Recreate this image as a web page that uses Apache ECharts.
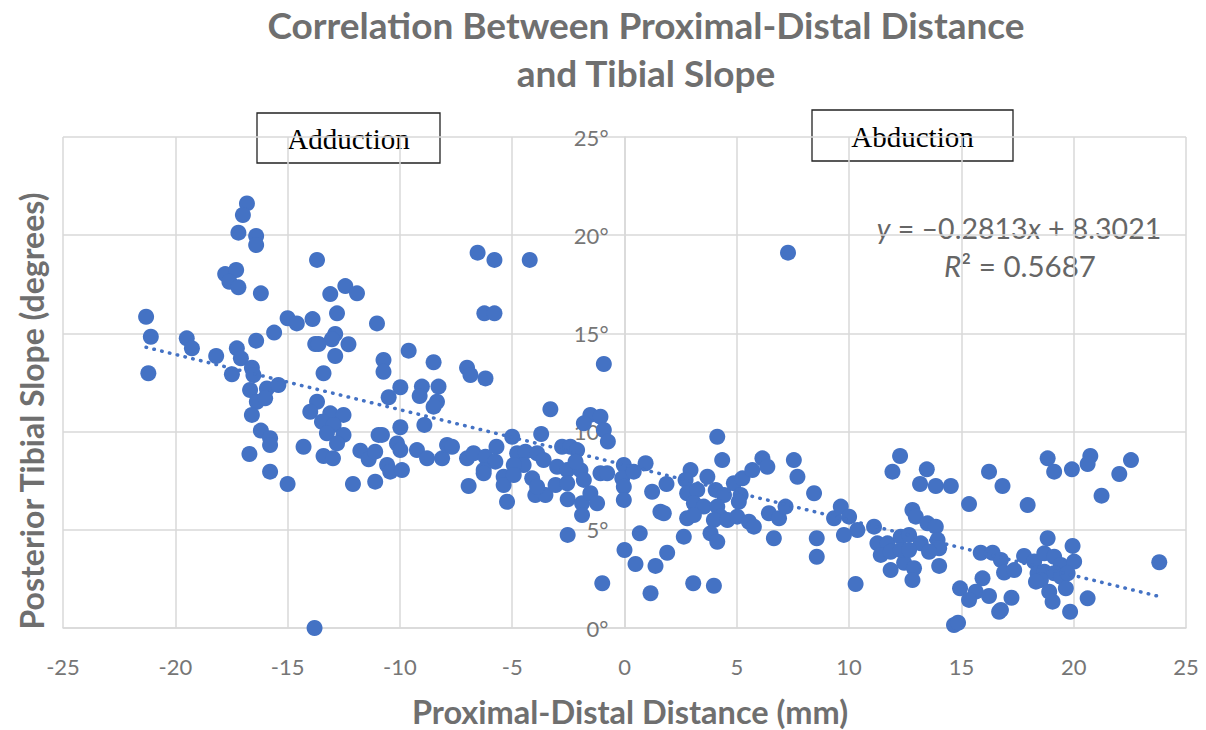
<!DOCTYPE html>
<html><head><meta charset="utf-8">
<script src="https://cdn.jsdelivr.net/npm/echarts@6/dist/echarts.min.js"></script>
<style>html,body{margin:0;padding:0;background:#fff}#c{width:1206px;height:730px}</style>
</head><body><div id="c"></div>
<script>
// ---- data ----
const titleText = 'Correlation Between Proximal-Distal Distance\nand Tibial Slope';
const xAxisTitle = 'Proximal-Distal Distance (mm)';
const yAxisTitle = 'Posterior Tibial Slope (degrees)';
const xTicks = [-25, -20, -15, -10, -5, 0, 5, 10, 15, 20, 25];
const yTicks = [0, 5, 10, 15, 20, 25];
const annotations = ['Adduction', 'Abduction'];
const slope = -0.2813, intercept = 8.3021, rSquared = 0.5687;

const adductionPoints = [
[-16.81,21.62],[-16.99,21.03],[-17.19,20.13],[-16.40,19.96],[-16.40,19.50],[-13.69,18.74],[-17.78,18.02],[-17.29,18.23],
[-17.59,17.63],[-17.19,17.35],[-16.19,17.04],[-13.10,17.00],[-12.43,17.41],[-11.91,17.04],[-21.30,15.85],[-21.09,14.83],
[-19.49,14.75],[-19.26,14.24],[-18.18,13.85],[-17.26,14.24],[-17.08,13.73],[-16.40,14.63],[-15.60,15.04],[-15.00,15.77],
[-14.59,15.51],[-13.89,15.73],[-12.80,16.02],[-12.88,14.97],[-13.03,14.70],[-13.77,14.46],[-13.62,14.46],[-12.29,14.45],
[-12.88,13.85],[-13.40,12.97],[-11.02,15.51],[-21.20,12.97],[-17.48,12.92],[-16.59,13.25],
[-16.52,12.88],[-16.67,12.12],[-15.92,12.20],[-15.41,12.37],[-16.37,11.52],[-16.00,11.70],[-16.59,10.85],[-16.19,10.05],
[-15.78,9.66],[-15.78,9.32],[-16.70,8.86],[-15.78,7.96],[-15.00,7.33],[-13.69,11.52],[-13.99,11.01],[-13.10,10.93],
[-12.51,10.85],[-13.47,10.50],[-12.95,10.34],[-13.25,9.91],[-12.51,9.83],[-12.80,9.40],[-14.29,9.23],[-13.40,8.76],
[-12.98,8.64],[-11.76,9.03],[-11.39,8.59],[-11.10,8.98],[-10.95,9.83],[-12.09,7.33],[-11.10,7.45],[-13.80,0.00],
[-6.54,19.11],[-5.79,18.74],[-4.22,18.74],[-6.24,16.02],[-5.79,16.02],[-10.73,13.65],[-10.73,13.05],[-9.61,14.12],
[-8.50,13.53],[-7.01,13.25],[-6.86,12.88],[-6.19,12.71],[-0.92,13.44],
[-9.98,12.26],[-9.02,12.29],[-8.28,12.29],[-9.12,11.81],[-10.50,11.75],[-8.35,11.52],[-8.50,11.27],[-3.30,11.14],
[-9.98,10.22],[-8.91,10.34],[-10.80,9.83],[-1.52,10.85],[-1.07,10.76],[-1.81,10.42],[-0.92,10.08],[-0.74,9.49],
[-5.00,9.74],[-3.71,9.88],[-2.78,9.23],[-2.41,9.23],[-10.13,9.40],[-9.98,9.06],[-9.24,9.06],[-8.79,8.64],
[-8.12,8.64],[-7.90,9.32],[-7.68,9.23],[-10.57,8.30],[-10.43,7.96],[-9.91,8.04],[-7.01,8.64],[-6.72,8.90],
[-6.19,8.72],[-5.75,8.47],[-6.27,8.04],[-6.27,7.88],[-5.70,9.23],[-6.94,7.23],[-4.78,8.90],[-4.41,8.98],
[-3.89,8.90],[-3.60,8.55],[-4.49,8.30],[-4.93,8.30],[-5.38,7.70],[-5.38,7.28],[-4.93,7.79],[-4.11,7.62],
[-3.97,6.77],[-3.52,6.77],[-3.89,7.19],[-3.07,7.28],[-5.23,6.43],[-3.00,8.21],[-2.55,8.04],[-2.55,7.37],
[-1.96,8.04],[-1.81,7.54],[-1.07,7.88],[-0.77,7.88],[-2.11,9.06],[-2.18,8.47],[-2.53,6.55],[-1.89,6.35],
[-1.89,5.75],[-1.52,6.86],[-1.22,6.35],[-2.53,4.74],[-0.99,2.28],[-0.03,8.30],[-0.10,7.62],[-0.03,7.19],
[-0.03,6.52],[0.00,3.97]
];
const abductionPoints = [
[4.13,9.74],[4.35,8.55],[0.94,8.39],[0.41,7.96],[1.23,6.94],[1.87,7.33],[2.94,8.04],[2.72,7.54],
[3.69,7.70],[2.79,6.86],[3.24,7.03],[3.09,6.35],[3.53,6.18],[1.60,5.92],[1.75,5.84],[2.79,5.59],
[3.09,5.75],[4.06,7.03],[4.43,6.77],[4.13,6.18],[4.28,5.67],[3.98,5.50],[4.58,5.50],[4.87,7.37],
[5.25,7.62],[5.69,8.04],[6.14,8.64],[6.36,8.21],[5.17,6.77],[5.09,6.43],[5.02,5.67],[5.54,5.41],
[5.76,5.16],[6.43,5.84],[6.88,5.59],[7.17,6.18],[7.54,8.55],[7.70,7.70],[8.44,6.86],[9.33,5.59],
[9.63,6.18],[10.00,5.67],[10.37,4.99],[9.77,4.74],[8.56,4.57],[8.56,3.63],[6.65,4.57],[0.68,4.82],
[2.64,4.65],[3.83,4.82],[4.13,4.39],[1.90,3.83],[0.49,3.26],[1.38,3.16],[1.16,1.77],[3.06,2.28],
[3.98,2.15],[10.29,2.24],[7.28,19.11],
[12.27,8.76],[11.93,7.96],[13.46,8.08],[13.16,7.33],[13.86,7.23],[14.53,7.23],[16.23,7.96],[16.83,7.23],
[15.34,6.31],[17.95,6.26],[18.84,8.64],[19.13,7.96],[19.92,8.08],[20.74,8.76],[20.62,8.35],[22.55,8.55],
[22.03,7.84],[21.24,6.74],[23.81,3.35],
[11.11,5.16],[11.26,4.31],[11.71,4.31],[11.41,3.72],[11.85,3.88],[12.30,4.65],[12.67,4.74],[12.82,6.01],
[12.97,5.67],[13.19,4.31],[13.49,5.33],[13.86,5.16],[13.94,4.48],[14.01,4.06],[13.56,3.88],[11.85,2.95],
[12.45,3.32],[12.89,3.04],[12.82,2.44],[14.01,3.16],[12.30,3.97],[12.67,3.97],[15.86,3.83],[16.39,3.83],
[16.76,3.46],[16.90,2.82],[17.35,2.95],[15.94,2.53],[14.94,2.02],[15.64,1.85],[15.34,1.43],[16.23,1.63],
[17.23,1.54],[16.68,0.83],[16.76,0.92],[14.67,0.15],[14.85,0.27],[17.79,3.67],[18.24,3.38],[18.69,3.80],
[19.13,3.63],[19.43,3.21],[18.84,4.57],[19.95,4.18],[20.02,3.38],[18.39,2.79],[18.69,2.87],[19.13,2.79],
[19.43,2.61],[19.73,2.79],[18.54,2.44],[18.32,2.36],[18.91,1.85],[19.06,1.34],[19.65,2.02],[20.62,1.51],
[19.84,0.83]
];

// ---- build chart ----
const allPoints = adductionPoints.concat(abductionPoints);
const xs = allPoints.map(p => p[0]);
const xMin = Math.min.apply(null, xs), xMax = Math.max.apply(null, xs);
const trend = [[xMin, slope * xMin + intercept], [xMax, slope * xMax + intercept]];

const BLUE = '#4472C4';
const GRID = '#d9d9d9';
const FONT = 'Lato, "Open Sans", sans-serif';
const W = 1206, GL = 63, GR = 20;
const axMin = xTicks[0], axMax = xTicks[xTicks.length - 1];
// y axis sits where x = 0
const yAxisOffset = -((W - GL - GR) * (0 - axMin) / (axMax - axMin));

const chart = echarts.init(document.getElementById('c'), null, {renderer: 'svg'});
chart.setOption({
  backgroundColor: '#fff',
  animation: false,
  title: {
    text: titleText, left: 641, top: -5, textAlign: 'center',
    textStyle: {fontFamily: FONT, fontSize: 37, fontWeight: 'bold', color: '#6f6f6f', lineHeight: 48}
  },
  grid: {left: GL, right: GR, top: 137, bottom: 102, containLabel: false},
  xAxis: {
    type: 'value', min: axMin, max: axMax, interval: 5,
    axisLine: {show: true, onZero: false, lineStyle: {color: GRID, width: 1.5}},
    axisTick: {show: false},
    axisLabel: {fontFamily: FONT, fontSize: 22, color: '#767676', margin: 27},
    splitLine: {show: true, lineStyle: {color: GRID, width: 1.5}}
  },
  yAxis: {
    type: 'value', min: yTicks[0], max: yTicks[yTicks.length - 1], interval: 5,
    position: 'left', offset: yAxisOffset,
    axisLine: {show: true, onZero: false, lineStyle: {color: GRID, width: 1.5}},
    axisTick: {show: false},
    axisLabel: {fontFamily: FONT, fontSize: 22, color: '#767676', margin: 16, formatter: v => v + '°'},
    splitLine: {show: true, lineStyle: {color: GRID, width: 1.5}}
  },
  series: [
    {type: 'scatter', data: allPoints, symbolSize: 16, itemStyle: {color: BLUE, opacity: 1}, z: 3},
    {type: 'line', data: trend, showSymbol: false, symbol: 'none', z: 4,
     lineStyle: {color: BLUE, width: 3.5, type: [0.5, 7.5], cap: 'round'}}
  ],
  graphic: [
    {type: 'text', x: 630, y: 711, z: 5,
     style: {text: xAxisTitle, font: 'bold 32.5px ' + FONT, lineHeight: 32, fill: '#6f6f6f', textAlign: 'center', textVerticalAlign: 'middle'}},
    {type: 'text', x: 31, y: 411, rotation: Math.PI / 2, z: 5,
     style: {text: yAxisTitle, font: 'bold 32px ' + FONT, fill: '#6f6f6f', textAlign: 'center', textVerticalAlign: 'middle'}},
    {type: 'group', z: 10, children: [
      {type: 'rect', shape: {x: 257, y: 113, width: 183, height: 50}, style: {fill: '#fff', stroke: '#222', lineWidth: 1.3}},
      {type: 'text', x: 348.5, y: 139, style: {text: annotations[0], font: '29px "Liberation Serif", serif', fill: '#000', textAlign: 'center', textVerticalAlign: 'middle'}}
    ]},
    {type: 'group', z: 10, children: [
      {type: 'rect', shape: {x: 812, y: 110, width: 201, height: 51}, style: {fill: '#fff', stroke: '#222', lineWidth: 1.3}},
      {type: 'text', x: 912.5, y: 137, style: {text: annotations[1], font: '29px "Liberation Serif", serif', fill: '#000', textAlign: 'center', textVerticalAlign: 'middle'}}
    ]},
    {type: 'group', z: 1, children: [
      {type: 'rect', shape: {x: 870, y: 208, width: 300, height: 76}, style: {fill: '#fff'}},
      {type: 'text', x: 1019, y: 228, style: {
        text: '{i|y} = –' + Math.abs(slope).toFixed(4) + '{i|x} + ' + intercept.toFixed(4),
        font: '28.5px ' + FONT, fill: '#666', textAlign: 'center', textVerticalAlign: 'middle',
        rich: {i: {fontStyle: 'italic', fontFamily: FONT, fontSize: 28.5, fill: '#666', color: '#666'}}}},
      {type: 'text', x: 1020, y: 265, style: {
        text: '{i|R}² = ' + rSquared.toFixed(4),
        font: '29.5px ' + FONT, fill: '#666', textAlign: 'center', textVerticalAlign: 'middle',
        rich: {i: {fontStyle: 'italic', fontFamily: FONT, fontSize: 29.5, fill: '#666', color: '#666'}}}}
    ]}
  ]
});
</script>
</body></html>
